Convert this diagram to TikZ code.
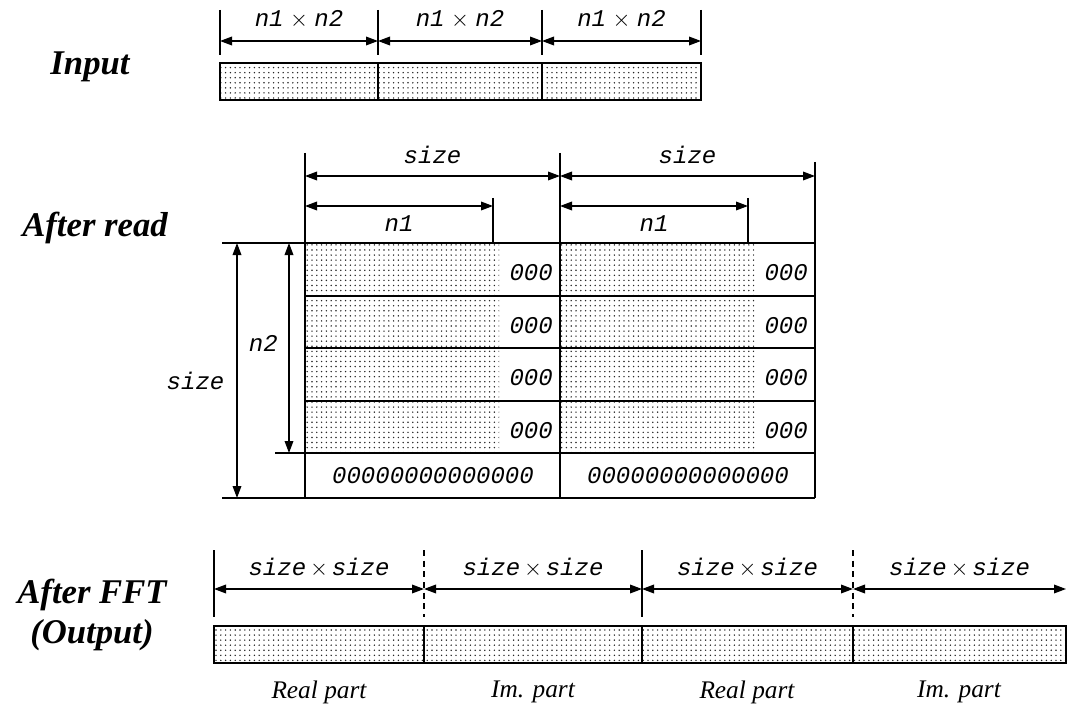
\documentclass[tikz,border=0pt]{standalone}
\usepackage{fontspec}
\setmainfont{Liberation Serif}
\setmonofont{Liberation Mono}
\usetikzlibrary{arrows.meta, patterns.meta}

\tikzdeclarepattern{
  name=finedots,
  type=uncolored,
  bounding box={(-1pt,-1pt) and (1pt,1pt)},
  tile size={(3.6pt,3.8pt)},
  code={\pgfpathcircle{\pgfpointorigin}{0.6pt}\pgfusepath{fill}}
}

\begin{document}
\begin{tikzpicture}[
  x=0.75pt, y=-0.75pt,
  stage/.style={font=\fontsize{26}{30}\selectfont\bfseries\itshape, align=center, inner sep=0pt},
  dimlab/.style={font=\fontsize{18}{20}\selectfont\ttfamily\itshape, inner sep=0pt},
  partlab/.style={font=\fontsize{19}{22}\selectfont\itshape, inner sep=0pt},
  dim/.style={{Triangle[length=9pt,width=6.5pt]}-{Triangle[length=9pt,width=6.5pt]}, line width=1pt},
  dimup/.style={dimlab, midway, yshift=16pt},
  tickline/.style={line width=1pt},
  dashtick/.style={line width=1pt, dash pattern=on 4.5pt off 3.5pt},
  gridline/.style={line width=1pt},
  dotfill/.style={pattern=finedots, pattern color=black!85},
  outline/.style={line width=1.5pt},
]
\useasboundingbox (0,0) rectangle (1067,706);

% stage names
\node[stage] (input) at (90,67) {Input};
\node[stage] (read) at (95,228) {After read};
\node[stage] (fft) at (92,615) {After FFT\\(Output)};

% input: three blocks of n1 x n2
\foreach \x [count=\i] in {220,378,542,701} {
  \coordinate (in\i) at (\x,41);
  \draw[tickline] (\x,10) -- (\x,55);
}
\foreach \i/\j in {1/2,2/3,3/4}
  \draw[dim] (in\i) -- node[dimup] {n1$\;\times\;$n2} (in\j);
\fill[dotfill] (220,63) rectangle (701,100);
\foreach \x in {378,542} \draw[gridline] (\x,63) -- (\x,100);
\draw[outline] (220,63) rectangle (701,100);

% after read: two padded planes
\fill[dotfill] (305,243) rectangle (499,453);
\fill[dotfill] (560,243) rectangle (754,453);
\draw[gridline] (222,243) -- (815,243);
\foreach \y in {296,348,401} \draw[gridline] (305,\y) -- (815,\y);
\draw[gridline] (275,453) -- (815,453);
\draw[gridline] (222,498) -- (815,498);
\draw[gridline] (305,153) -- (305,498);
\draw[gridline] (560,153) -- (560,498);
\draw[gridline] (815,162) -- (815,498);
\draw[tickline] (493,198) -- (493,243);
\draw[tickline] (748,198) -- (748,243);

\coordinate (sz1) at (305,176);
\coordinate (sz2) at (560,176);
\coordinate (sz3) at (815,176);
\draw[dim] (sz1) -- node[dimup] {size} (sz2);
\draw[dim] (sz2) -- node[dimup] {size} (sz3);

\coordinate (na1) at (305,206);
\coordinate (nb1) at (493,206);
\coordinate (na2) at (560,206);
\coordinate (nb2) at (748,206);
\draw[dim] (na1) -- node[dimlab, midway, yshift=-13pt] {n1} (nb1);
\draw[dim] (na2) -- node[dimlab, midway, yshift=-13pt] {n1} (nb2);

\coordinate (vtop) at (237,243);
\coordinate (vbot) at (237,498);
\coordinate (ntop) at (289,243);
\coordinate (nbot) at (289,453);
\draw[dim] (vtop) -- node[dimlab, pos=0.54, left=9pt] {size} (vbot);
\draw[dim] (ntop) -- node[dimlab, pos=0.48, left=8pt] {n2} (nbot);

\foreach \y [count=\r] in {273,326,378,431} {
  \node[dimlab, anchor=east] (za\r) at (553,\y) {000};
  \node[dimlab, anchor=east] (zb\r) at (808,\y) {000};
}
\node[dimlab] (zrowa) at (433,476) {00000000000000};
\node[dimlab] (zrowb) at (688,476) {00000000000000};

% after fft: real and imaginary halves
\foreach \x/\s [count=\i] in {214/tickline,424/dashtick,642/tickline,853/dashtick} {
  \coordinate (ft\i) at (\x,589);
  \draw[\s] (\x,550) -- (\x,617);
}
\coordinate (ft5) at (1066,589);
\foreach \i/\j in {1/2,2/3,3/4,4/5}
  \draw[dim] (ft\i) -- node[dimup] {size$\,\times\,$size} (ft\j);
\fill[dotfill] (214,626) rectangle (1066,663);
\foreach \x in {424,642,853} \draw[gridline] (\x,626) -- (\x,663);
\draw[outline] (214,626) rectangle (1066,663);

\node[partlab] (re1) at (319,692) {Real part};
\node[partlab] (im1) at (533,692) {Im. part};
\node[partlab] (re2) at (747,692) {Real part};
\node[partlab] (im2) at (959,692) {Im. part};

\end{tikzpicture}
\end{document}
